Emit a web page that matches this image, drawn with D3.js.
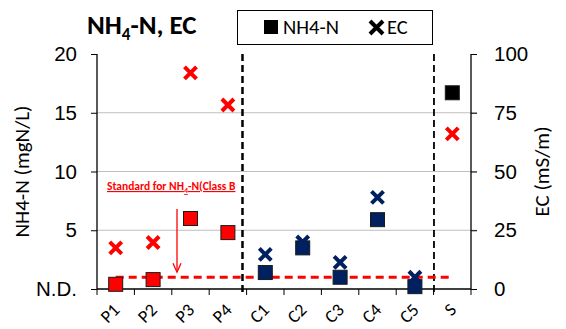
<!DOCTYPE html>
<html lang="en">
<head>
  <meta charset="UTF-8">
  <title>NH4-N, EC</title>
  <script src="https://d3js.org/d3.v7.min.js"></script>
  <style>
    body { margin: 0; background: #fff; }
    svg { font-family: Carlito, Calibri, Lato, sans-serif; }
  </style>
</head>
<body>
<script>
// data
const sites = ["P1", "P2", "P3", "P4", "C1", "C2", "C3", "C4", "C5", "S"];
const nh4 = [0.4, 0.8, 6.0, 4.8, 1.4, 3.5, 1.0, 5.9, 0.2, 16.7];   // mgN/L
const ec = [17.5, 19.8, 92, 78.3, 14.7, 20, 11.3, 39, 5, 66];     // mS/m
const groups = ["P", "P", "P", "P", "C", "C", "C", "C", "C", "S"];
const leftTicks = [0, 5, 10, 15, 20];
const rightTicks = [0, 25, 50, 75, 100];
const standard = 1.0;                 // NH4-N standard (Class B)
const dividers = [3.39, 8.51];        // dashed separators, in site-index units

const width = 566, height = 329;
const m = { left: 97, right: 95, top: 54, bottom: 40 };
const x0 = m.left, x1 = width - m.right, y0 = height - m.bottom, y1 = m.top;

const x = d3.scaleBand().domain(sites).range([x0, x1]);
const xi = d3.scaleLinear().domain([-0.5, sites.length - 0.5]).range([x0, x1]);
const yL = d3.scaleLinear().domain([0, 20]).range([y0, y1]);
const yR = d3.scaleLinear().domain([0, 100]).range([y0, y1]);

const sqFill = { P: "#ff0000", C: "#002060", S: "#000000" };
const xCol = { P: "#ff0000", C: "#002060", S: "#ff0000" };

const svg = d3.select("body").append("svg")
    .attr("width", width)
    .attr("height", height);

// gridlines
svg.append("g")
  .selectAll("line")
  .data(leftTicks.filter(d => d > 0 && d < 20))
  .join("line")
    .attr("x1", x0).attr("x2", x1 + 6)
    .attr("y1", d => yL(d)).attr("y2", d => yL(d))
    .attr("stroke", "#bfbfbf").attr("stroke-width", 1);

// axes
const axisL = svg.append("g")
    .attr("transform", `translate(${x0},0)`)
    .call(d3.axisLeft(yL).tickValues(leftTicks).tickSize(6).tickPadding(14)
      .tickFormat(d => d === 0 ? "N.D." : d));
const axisR = svg.append("g")
    .attr("transform", `translate(${x1},0)`)
    .call(d3.axisRight(yR).tickValues(rightTicks).tickSize(6).tickPadding(17));
[axisL, axisR].forEach(a => {
  a.select(".domain").attr("stroke", "#000").attr("stroke-width", 1.3).attr("d", `M0,${y1}V${y0}`);
  a.selectAll(".tick line").attr("stroke", "#000");
  a.selectAll("text").attr("font-size", 20.5).attr("fill", "#000").attr("font-family", null);
});

const axisB = svg.append("g").attr("transform", `translate(0,${y0})`);
axisB.append("line")
    .attr("x1", x0).attr("x2", x1).attr("stroke", "#000").attr("stroke-width", 1.3);
axisB.selectAll(".tk")
  .data(d3.range(sites.length + 1))
  .join("line")
    .attr("x1", i => xi(i - 0.5)).attr("x2", i => xi(i - 0.5))
    .attr("y1", 0).attr("y2", 6).attr("stroke", "#000");
axisB.selectAll("text")
  .data(sites)
  .join("text")
    .attr("transform", d => `translate(${x(d) + x.bandwidth() / 2 + 5},${22}) rotate(-45)`)
    .attr("text-anchor", "end")
    .attr("font-size", 18)
    .text(d => d);

// separators
svg.append("g")
  .selectAll("line")
  .data(dividers)
  .join("line")
    .attr("x1", d => xi(d)).attr("x2", d => xi(d))
    .attr("y1", y1).attr("y2", y0 + 4)
    .attr("stroke", "#000")
    .attr("stroke-width", (d, i) => i === 0 ? 2.5 : 1.8)
    .attr("stroke-dasharray", "7,4");

// standard line
svg.append("line")
    .attr("x1", xi(0)).attr("x2", xi(sites.length - 1))
    .attr("y1", yL(standard)).attr("y2", yL(standard))
    .attr("stroke", "#ff0000").attr("stroke-width", 3)
    .attr("stroke-dasharray", "8,5");

// annotation
const note = svg.append("text")
    .attr("x", 107).attr("y", 190)
    .attr("font-size", 11.5).attr("font-weight", "bold")
    .attr("fill", "#ff0000")
    .attr("text-decoration", "underline");
note.append("tspan").text("Standard for NH");
note.append("tspan").attr("font-size", 8).attr("dy", 3).text("4");
note.append("tspan").attr("dy", -3).text("-N(Class B");

const ax = 177;
svg.append("line")
    .attr("x1", ax).attr("x2", ax).attr("y1", 209).attr("y2", yL(standard) - 6)
    .attr("stroke", "#ff0000").attr("stroke-width", 1.3);
svg.append("path")
    .attr("d", `M${ax - 4},${yL(standard) - 14}L${ax},${yL(standard) - 5}L${ax + 4},${yL(standard) - 14}`)
    .attr("fill", "none").attr("stroke", "#ff0000").attr("stroke-width", 1.3);

// markers
const cx = i => x(sites[i]) + x.bandwidth() / 2;
const plot = svg.append("g");
const s = 14;
plot.selectAll("rect")
  .data(nh4)
  .join("rect")
    .attr("x", (d, i) => cx(i) - s / 2)
    .attr("y", d => yL(d) - s / 2)
    .attr("width", s).attr("height", s)
    .attr("fill", (d, i) => sqFill[groups[i]])
    .attr("stroke", "#1a1a1a").attr("stroke-width", 1);
const c = 6;
plot.selectAll("path")
  .data(ec)
  .join("path")
    .attr("d", (d, i) => {
      const px = cx(i), py = yR(d);
      return `M${px - c},${py - c}L${px + c},${py + c}M${px - c},${py + c}L${px + c},${py - c}`;
    })
    .attr("stroke", (d, i) => xCol[groups[i]])
    .attr("stroke-width", 4)
    .attr("fill", "none");

// axis titles
svg.append("text")
    .attr("transform", `translate(29,${(y0 + y1) / 2}) rotate(-90)`)
    .attr("text-anchor", "middle").attr("font-size", 21)
    .text("NH4-N (mgN/L)");
svg.append("text")
    .attr("transform", `translate(549,${(y0 + y1) / 2}) rotate(-90)`)
    .attr("text-anchor", "middle").attr("font-size", 21)
    .text("EC (mS/m)");

// title
const title = svg.append("text")
    .attr("x", 87).attr("y", 34)
    .attr("font-size", 27).attr("font-weight", "bold");
title.append("tspan").text("NH");
title.append("tspan").attr("font-size", 17).attr("dy", 6).text("4");
title.append("tspan").attr("dy", -6).text("-N, EC");

// legend
const lg = svg.append("g");
lg.append("rect")
    .attr("x", 237.5).attr("y", 10.5).attr("width", 195).attr("height", 34)
    .attr("fill", "#fff").attr("stroke", "#000").attr("stroke-width", 1);
lg.append("rect")
    .attr("x", 264).attr("y", 20).attr("width", 14).attr("height", 14).attr("fill", "#000");
lg.append("text").attr("x", 283).attr("y", 34).attr("font-size", 20.5).text("NH4-N");
lg.append("path")
    .attr("d", "M370,21L383,34M370,34L383,21")
    .attr("stroke", "#000").attr("stroke-width", 4);
lg.append("text").attr("x", 387).attr("y", 34).attr("font-size", 20.5).text("EC");
</script>
</body>
</html>
